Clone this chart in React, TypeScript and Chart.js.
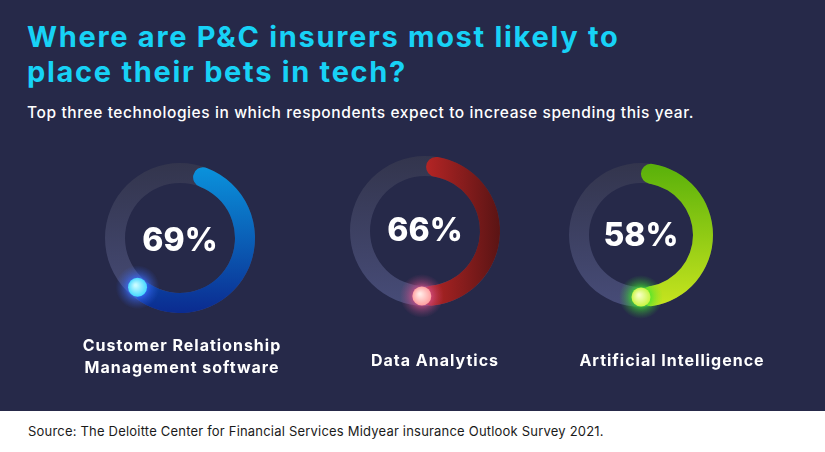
import React, { useEffect, useRef } from "react";
import { Chart, registerables } from "chart.js";

Chart.register(...registerables);

// ---------- data ----------
const titleLines = ["Where are P&C insurers most likely to", "place their bets in tech?"];
const subtitle = "Top three technologies in which respondents expect to increase spending this year.";
const categories = [
  ["Customer Relationship", "Management software"],
  ["Data Analytics"],
  ["Artificial Intelligence"],
];
const percentLabels = ["69%", "66%", "58%"];
// share of each ring that is filled, as drawn in the picture
const arcFilled = [58, 50.5, 50];
const sourceNote = "Source: The Deloitte Center for Financial Services Midyear insurance Outlook Survey 2021.";

// ---------- layout / style ----------
const BG = "#262949";
const FONT = "Inter, 'Noto Sans', sans-serif";
const PAD = 22;

type RingStyle = {
  cx: number; cy: number; r: number; thickness: number; rotation: number;
  grad: "v" | "h"; c0: string; c1: string;
  dotIn: string; dotOut: string; glow: string; textDy: number;
};

const rings: RingStyle[] = [
  { cx: 180, cy: 238, r: 75, thickness: 20, rotation: 12, grad: "v", c0: "#0a95de", c1: "#0b2b90",
    dotIn: "#c8fbff", dotOut: "#3fd6ff", glow: "#3b6dff", textDy: 3 },
  { cx: 425, cy: 231, r: 75, thickness: 20, rotation: 1, grad: "h", c0: "#bb2626", c1: "#5a1414",
    dotIn: "#ffeae6", dotOut: "#ff9c9c", glow: "#d2508a", textDy: 0 },
  { cx: 641, cy: 235, r: 72, thickness: 20, rotation: 0, grad: "v", c0: "#58b00a", c1: "#c8e51f",
    dotIn: "#f6ffc0", dotOut: "#c6f53c", glow: "#3ee62e", textDy: 1 },
];

const labelPos = [
  { cx: 182, top: 334 },
  { cx: 435, top: 349 },
  { cx: 672, top: 349 },
];

function Ring({ idx }: { idx: number }) {
  const ref = useRef<HTMLCanvasElement>(null);
  const st = rings[idx];
  const size = 2 * (st.r + PAD);

  useEffect(() => {
    const canvas = ref.current;
    if (!canvas) return;

    const decor = {
      id: "ringDecor",
      beforeDatasetsDraw(chart: any) {
        const arc = chart.getDatasetMeta(0).data[0];
        if (!arc) return;
        const { x, y, innerRadius, outerRadius } = arc;
        const ctx = chart.ctx as CanvasRenderingContext2D;
        ctx.save();
        const g = ctx.createLinearGradient(0, y - outerRadius, 0, y + outerRadius);
        g.addColorStop(0, "#33354d");
        g.addColorStop(1, "#474c78");
        ctx.beginPath();
        ctx.arc(x, y, outerRadius, 0, Math.PI * 2);
        ctx.arc(x, y, innerRadius, 0, Math.PI * 2, true);
        ctx.closePath();
        ctx.fillStyle = g;
        ctx.fill();
        ctx.restore();
      },
      afterDatasetsDraw(chart: any) {
        const arc = chart.getDatasetMeta(0).data[0];
        if (!arc) return;
        const { x, y, innerRadius, outerRadius, endAngle } = arc;
        const ctx = chart.ctx as CanvasRenderingContext2D;
        const mid = (innerRadius + outerRadius) / 2;
        const px = x + Math.cos(endAngle) * mid;
        const py = y + Math.sin(endAngle) * mid;
        ctx.save();
        // outer glow
        const halo = ctx.createRadialGradient(px, py, 4, px, py, 22);
        halo.addColorStop(0, st.glow + "cc");
        halo.addColorStop(0.5, st.glow + "55");
        halo.addColorStop(1, st.glow + "00");
        ctx.fillStyle = halo;
        ctx.beginPath();
        ctx.arc(px, py, 22, 0, Math.PI * 2);
        ctx.fill();
        // dot
        const dg = ctx.createRadialGradient(px - 2, py - 2, 1, px, py, 10);
        dg.addColorStop(0, st.dotIn);
        dg.addColorStop(1, st.dotOut);
        ctx.shadowColor = st.glow;
        ctx.shadowBlur = 10;
        ctx.fillStyle = dg;
        ctx.beginPath();
        ctx.arc(px, py, 9.5, 0, Math.PI * 2);
        ctx.fill();
        ctx.restore();
        // center label
        ctx.save();
        ctx.fillStyle = "#ffffff";
        ctx.font = `800 32px ${FONT}`;
        ctx.textAlign = "center";
        ctx.textBaseline = "middle";
        ctx.fillText(percentLabels[idx], x, y + st.textDy);
        ctx.restore();
      },
    };

    const chart = new Chart(canvas, {
      type: "doughnut",
      data: {
        labels: ["filled", "rest"],
        datasets: [
          {
            data: [arcFilled[idx], 100 - arcFilled[idx]],
            backgroundColor: (c: any) => {
              if (c.dataIndex !== 0) return "rgba(0,0,0,0)";
              const ch = c.chart;
              const area = ch.chartArea;
              if (!area) return st.c0;
              const ctx = ch.ctx as CanvasRenderingContext2D;
              const cx = (area.left + area.right) / 2;
              const cy = (area.top + area.bottom) / 2;
              const g =
                st.grad === "v"
                  ? ctx.createLinearGradient(0, cy - st.r, 0, cy + st.r)
                  : ctx.createLinearGradient(cx - 5, 0, cx + st.r, 0);
              g.addColorStop(0, st.c0);
              g.addColorStop(1, st.c1);
              return g;
            },
            borderWidth: 0,
            borderRadius: (c: any) => (c.dataIndex === 0 ? st.thickness / 2 : 0),
          } as any,
        ],
      },
      options: {
        responsive: false,
        animation: false,
        events: [],
        rotation: st.rotation,
        cutout: st.r - st.thickness,
        layout: { padding: PAD },
        plugins: { legend: { display: false }, tooltip: { enabled: false } },
      } as any,
      plugins: [decor],
    });
    return () => chart.destroy();
  }, [idx]);

  return (
    <canvas
      ref={ref}
      width={size}
      height={size}
      style={{
        position: "absolute",
        left: st.cx - st.r - PAD,
        top: st.cy - st.r - PAD,
        width: size,
        height: size,
      }}
    />
  );
}

export default function App() {
  return (
    <div
      style={{
        position: "absolute",
        left: 0,
        top: 0,
        width: 825,
        height: 452,
        overflow: "hidden",
        background: "#ffffff",
        fontFamily: FONT,
      }}
    >
      <div style={{ position: "absolute", left: 0, top: 0, width: 825, height: 411, background: BG }} />
      <div
        style={{
          position: "absolute",
          left: 27,
          top: 19,
          color: "#17d2f6",
          fontWeight: 700,
          fontSize: 29,
          lineHeight: "35px",
          letterSpacing: "1.7px",
          whiteSpace: "nowrap",
        }}
      >
        {titleLines.map((t, i) => (
          <div key={i}>{t}</div>
        ))}
      </div>
      <div
        style={{
          position: "absolute",
          left: 27,
          top: 103,
          color: "#ffffff",
          fontWeight: 500,
          fontSize: 15.5,
          lineHeight: "20px",
          letterSpacing: "0.6px",
          whiteSpace: "nowrap",
        }}
      >
        {subtitle}
      </div>
      {rings.map((_, i) => (
        <Ring key={i} idx={i} />
      ))}
      {categories.map((lines, i) => (
        <div
          key={i}
          style={{
            position: "absolute",
            left: labelPos[i].cx - 150,
            width: 300,
            top: labelPos[i].top,
            textAlign: "center",
            color: "#ffffff",
            fontWeight: 700,
            fontSize: 16,
            lineHeight: "22px",
            letterSpacing: "1px",
            whiteSpace: "nowrap",
          }}
        >
          {lines.map((l, j) => (
            <div key={j}>{l}</div>
          ))}
        </div>
      ))}
      <div
        style={{
          position: "absolute",
          left: 28,
          top: 422,
          color: "#1a1a1a",
          fontSize: 13,
          lineHeight: "18px",
          letterSpacing: "0.2px",
          whiteSpace: "nowrap",
        }}
      >
        {sourceNote}
      </div>
    </div>
  );
}
